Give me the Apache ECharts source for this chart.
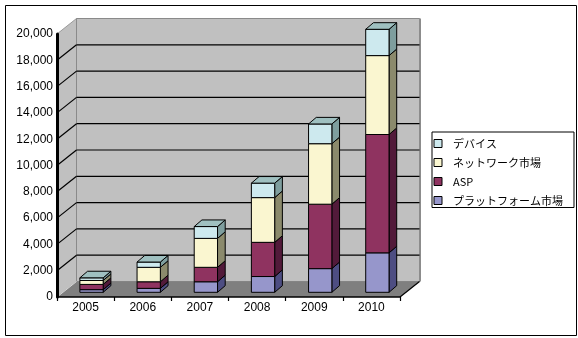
<!DOCTYPE html>
<html><head><meta charset="utf-8">
<script src="https://cdn.jsdelivr.net/npm/echarts@6/dist/echarts.min.js"></script>
<style>html,body{margin:0;padding:0;background:#fff}#c{width:578px;height:338px}</style>
</head><body><div id="c"></div>
<script>
const categories = ['2005','2006','2007','2008','2009','2010'];
const platform = [200, 300, 800, 1200, 1800, 3000];
const asp = [400, 500, 1100, 2600, 4900, 9000];
const network = [300, 1100, 2200, 3400, 4600, 6000];
const device = [200, 400, 900, 1100, 1500, 2000];
const yTicks = [0, 2000, 4000, 6000, 8000, 10000, 12000, 14000, 16000, 18000, 20000];
const seriesNames = ['プラットフォーム市場', 'ASP', 'ネットワーク市場', 'デバイス'];
const legendOrder = ['デバイス', 'ネットワーク市場', 'ASP', 'プラットフォーム市場'];

const stackValues = [platform, asp, network, device];
const faceColors = ['#9696cb', '#8f3360', '#faf6d0', '#cde9ee'];
const sideColors = ['#4d4d82', '#521a3a', '#8b8a6c', '#7e9e9e'];
const topColors = ['#b8b8e0', '#b05080', '#d8d6b0', '#9fc0c0'];

// wall depth (px)
const DX = 19.5, DY = 15.5;
// bar geometry (px, relative to category centre at front)
const BL = -5.7, BR = 17.6, BDX = 7.7, BDY = 6.6, LIFT = 4.7;

const chart = echarts.init(document.getElementById('c'), null, {renderer: 'canvas'});

function wallsRender(params, api) {
  const cs = params.coordSys;
  const x0 = cs.x, x1 = cs.x + cs.width;
  const yTop = api.coord([0, yTicks[yTicks.length - 1]])[1];
  const y0 = api.coord([0, 0])[1];
  const ch = [];
  // side wall
  ch.push({type: 'polygon', shape: {points: [[x0, y0], [x0 + DX, y0 - DY], [x0 + DX, yTop - DY], [x0, yTop]]},
    style: {fill: '#c0c0c0', stroke: '#9a9a9a', lineWidth: 1}});
  // back wall
  ch.push({type: 'rect', shape: {x: x0 + DX, y: yTop - DY, width: cs.width, height: y0 - yTop}, style: {fill: '#c0c0c0', stroke: '#8a8a8a', lineWidth: 1}});
  ch.push({type: 'line', shape: {x1: x1 + DX + 0.5, y1: yTop - DY, x2: x1 + DX + 0.5, y2: y0 - DY}, style: {stroke: '#8c8c8c', lineWidth: 2}});
  // floor
  ch.push({type: 'polygon', shape: {points: [[x0, y0], [x1, y0], [x1 + DX, y0 - DY], [x0 + DX, y0 - DY]]},
    style: {fill: '#7f7f7f'}});
  ch.push({type: 'line', shape: {x1: x1, y1: y0, x2: x1 + DX, y2: y0 - DY}, style: {stroke: '#000', lineWidth: 1.2}});
  ch.push({type: 'line', shape: {x1: x0, y1: y0, x2: x0 + DX, y2: y0 - DY}, style: {stroke: '#d8d8d8', lineWidth: 1}});
  // grid lines
  for (let i = 1; i < yTicks.length - 1; i++) {
    const y = api.coord([0, yTicks[i]])[1];
    ch.push({type: 'line', shape: {x1: x0 + DX, y1: y - DY, x2: x1 + DX, y2: y - DY}, style: {stroke: '#000', lineWidth: 1.2}});
    ch.push({type: 'line', shape: {x1: x0, y1: y, x2: x0 + DX, y2: y - DY}, style: {stroke: '#000', lineWidth: 1.2}});
  }
  return {type: 'group', children: ch};
}

function barRender(si) {
  return function (params, api) {
    const c = api.value(0);
    const pb = api.coord([c, api.value(1)]);
    const pt = api.coord([c, api.value(2)]);
    const xl = pb[0] + BL, xr = pb[0] + BR;
    const yb = pb[1] - LIFT, yt = pt[1] - LIFT;
    const st = {stroke: '#000', lineWidth: 1, lineJoin: 'round'};
    const ch = [
      {type: 'polygon', shape: {points: [[xr, yb], [xr + BDX, yb - BDY], [xr + BDX, yt - BDY], [xr, yt]]},
        style: Object.assign({fill: sideColors[si]}, st)},
      {type: 'rect', shape: {x: xl, y: yt, width: xr - xl, height: yb - yt},
        style: Object.assign({fill: faceColors[si]}, st)}
    ];
    if (si === stackValues.length - 1) {
      ch.push({type: 'polygon', shape: {points: [[xl, yt], [xl + BDX, yt - BDY], [xr + BDX, yt - BDY], [xr, yt]]},
        style: Object.assign({fill: topColors[si]}, st)});
    }
    return {type: 'group', children: ch};
  };
}

const series = [{
  type: 'custom', name: '_walls', silent: true, z: 1,
  data: [[0, 0]], encode: {x: 0, y: 1}, renderItem: wallsRender
}];
const base = categories.map(() => 0);
stackValues.forEach((vals, si) => {
  const data = vals.map((v, i) => { const d = [i, base[i], base[i] + v]; base[i] += v; return d; });
  series.push({
    type: 'custom', name: seriesNames[si], z: 2 + si,
    itemStyle: {color: faceColors[si]},
    data: data, encode: {x: 0, y: [1, 2]}, renderItem: barRender(si)
  });
});

chart.setOption({
  animation: false,
  backgroundColor: '#fff',
  grid: {left: 57, right: 178, top: 34, bottom: 41, containLabel: false},
  xAxis: {
    type: 'category', data: categories, z: 10,
    axisLine: {lineStyle: {color: '#000', width: 1.5}},
    axisTick: {show: true, length: 4, lineStyle: {color: '#000', width: 1.2}},
    axisLabel: {color: '#000', fontSize: 12, fontFamily: 'Liberation Sans, Arial, sans-serif', margin: 5},
    splitLine: {show: false}
  },
  yAxis: {
    type: 'value', min: 0, max: 20000, interval: 2000, z: 10,
    axisLine: {show: true, lineStyle: {color: '#000', width: 3}},
    axisTick: {show: false},
    axisLabel: {color: '#000', fontSize: 12, fontFamily: 'Liberation Sans, Arial, sans-serif', margin: 4},
    splitLine: {show: false}
  },
  legend: {
    data: legendOrder, orient: 'vertical',
    left: 432, top: 132,
    padding: [4.5, 11, 0, 1.5],
    backgroundColor: '#fff', borderColor: '#000', borderWidth: 1,
    itemWidth: 8, itemHeight: 8, itemGap: 5, icon: 'rect',
    itemStyle: {borderColor: '#000', borderWidth: 1},
    textStyle: {color: '#000', fontSize: 11, lineHeight: 14, fontFamily: 'Noto Sans CJK JP, sans-serif', padding: [0, 0, 0, 6]},
    selectedMode: false
  },
  graphic: [{
    type: 'rect', left: 3, top: 3, z: 100, silent: true,
    shape: {x: 0, y: 0, width: 571, height: 330},
    style: {fill: 'none', stroke: '#000', lineWidth: 1}
  }],
  series: series
});
</script></body></html>
